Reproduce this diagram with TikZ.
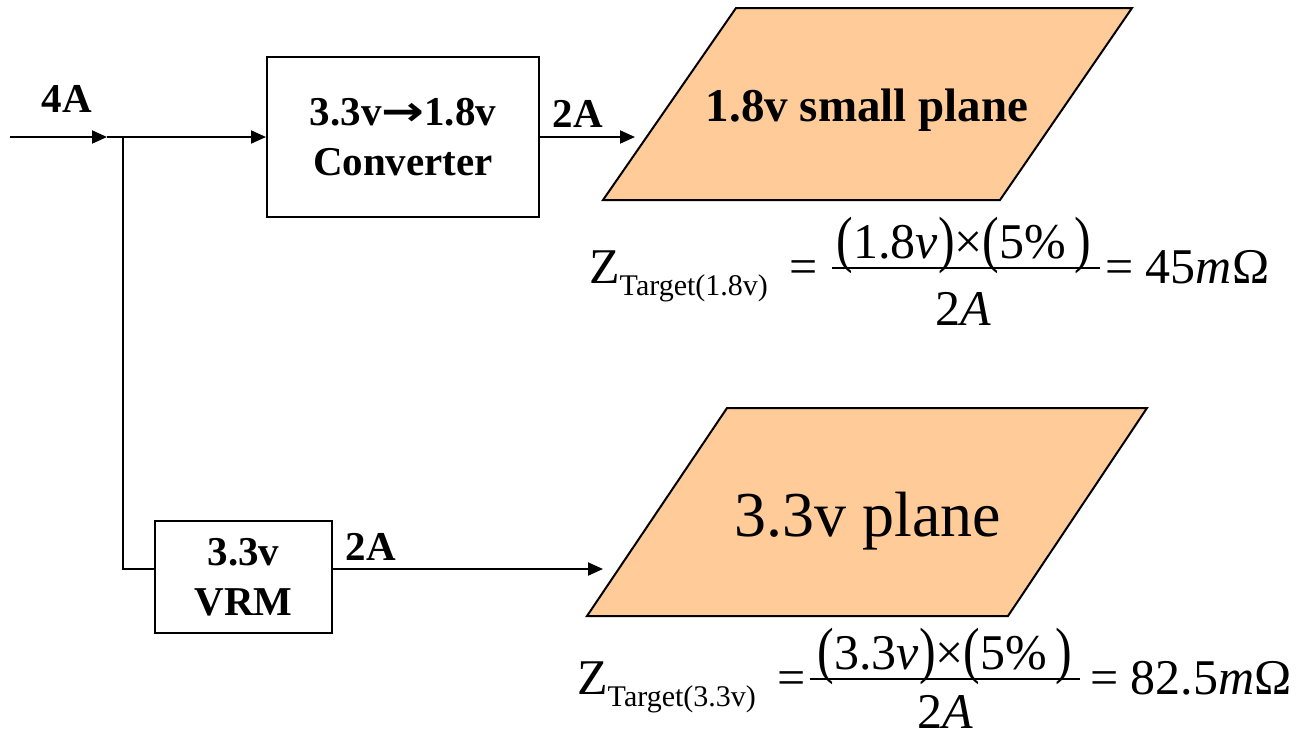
\documentclass[tikz,border=0pt]{standalone}
\usepackage{fontspec}
\setmainfont{Liberation Serif}
\newfontfamily\arrowfont{DejaVu Sans}
\usepackage{graphicx}
\usetikzlibrary{arrows.meta}
\definecolor{planefill}{HTML}{FFCC99}
\newcommand{\tallp}[1]{\raisebox{-2pt}{\scalebox{1}[1.25]{#1}}}
\newcommand{\subtxt}[1]{\raisebox{-12pt}{\fontsize{30}{36}\selectfont #1}}
\newcommand{\convarrow}{{\arrowfont\bfseries\scalebox{1.25}[1]{→}}}
\tikzset{
  box/.style={draw, line width=2pt, align=center, inner sep=0pt,
    font=\fontsize{41}{50}\selectfont\bfseries},
  lbl/.style={inner sep=0pt, anchor=base, font=\fontsize{41}{50}\selectfont\bfseries},
  arr/.style={line width=2pt, -{Triangle[length=15pt,width=13pt]}},
  wire/.style={line width=2pt},
  fbar/.style={line width=2pt},
  plane/.style={draw, line width=2pt, fill=planefill, line join=miter},
  ftext/.style={inner sep=0pt, anchor=base, font=\fontsize{50}{60}\selectfont},
}
\begin{document}
\begin{tikzpicture}[x=1pt,y=-1pt]
\useasboundingbox (0,0) rectangle (1298,740);
% boxes
\node[box, minimum width=272pt, minimum height=160pt] (conv) at (403,137) {3.3v\convarrow1.8v\\Converter};
\node[box, minimum width=177pt, minimum height=112pt] (vrm) at (243.5,577) {3.3v\\VRM};
% planes
\draw[plane] (603,200) -- (1000,200) -- (1132,8) -- (736,8) -- cycle;
\node[inner sep=0pt, anchor=base, font=\fontsize{47}{56}\selectfont\bfseries] (p1) at (867,121) {1.8v small plane};
\draw[plane] (587,616) -- (1008,616) -- (1147,408) -- (727,408) -- cycle;
\node[inner sep=0pt, anchor=base, font=\fontsize{64}{76}\selectfont] (p2) at (868,536) {3.3v plane};
% coordinates
\coordinate (src) at (10,137);
\coordinate (tip) at (107,137);
\coordinate (j) at (123,137);
\coordinate (vin) at (155,569);
\coordinate (vout) at (332,569);
\coordinate (p1in) at (635,137);
\coordinate (p2in) at (603,569);
% connectors
\draw[arr] (src) -- (tip);
\draw[arr] (tip) -- (conv.west);
\draw[wire] (j) |- (vin);
\draw[arr] (conv.east) -- (p1in);
\draw[arr] (vout) -- (p2in);
% labels
\node[lbl] (l4a) at (67,112) {4A};
\node[lbl] (l2a1) at (578,127) {2A};
\node[lbl] (l2a2) at (371,560) {2A};
% formula 1
\node[ftext, anchor=base west] (z1) at (589,283) {Z\subtxt{Target(1.8v)}};
\node[ftext] (eq1) at (804,283) {=};
\node[ftext] (n1) at (964,258) {\tallp{(}1.8\textit{v}\tallp{)}×\tallp{(}5\%\,\tallp{)}};
\coordinate (b1l) at (832,268);
\coordinate (b1r) at (1100,268);
\draw[fbar] (b1l) -- (b1r);
\node[ftext] (d1) at (963,325) {2\textit{A}};
\node[ftext, anchor=base west] (r1) at (1105,283) {= 45\textit{m}Ω};
% formula 2
\node[ftext, anchor=base west] (z2) at (577,694) {Z\subtxt{Target(3.3v)}};
\node[ftext] (eq2) at (792,694) {=};
\node[ftext] (n2) at (945,669) {\tallp{(}3.3\textit{v}\tallp{)}×\tallp{(}5\%\,\tallp{)}};
\coordinate (b2l) at (810,679);
\coordinate (b2r) at (1080,679);
\draw[fbar] (b2l) -- (b2r);
\node[ftext] (d2) at (945,728) {2\textit{A}};
\node[ftext, anchor=base west] (r2) at (1090,694) {= 82.5\textit{m}Ω};
\end{tikzpicture}
\end{document}
